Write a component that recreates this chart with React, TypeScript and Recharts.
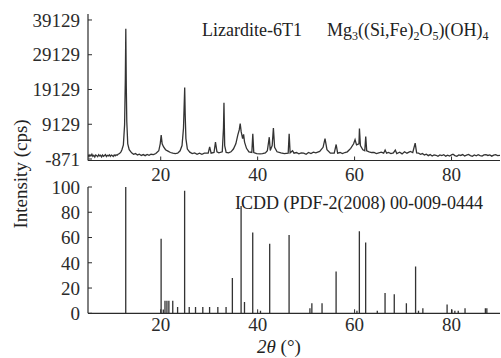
import React from 'react';
import { LineChart, Line, XAxis, YAxis, BarChart, Bar } from 'recharts';

const FONT = '"Liberation Serif", "Times New Roman", serif';
const INK = '#2b2b2b';

// Measured XRD pattern: 2θ (°) and intensity (cps)
const xrdAngle = [
  5.0, 5.2, 5.4, 5.6, 5.8, 6.0, 6.2, 6.4, 6.6, 6.8, 7.0, 7.2, 7.4, 7.6, 7.8, 8.0, 8.2, 8.4, 8.6, 8.8,
  9.0, 9.2, 9.4, 9.6, 9.8, 10.0, 10.2, 10.4, 10.6, 10.8, 11.0, 11.2, 11.5, 11.8, 12.0, 12.3, 12.55, 12.7,
  12.8, 12.9, 13.0, 13.2, 13.5, 14.0, 14.4, 14.8, 15.2, 15.6, 16.0, 16.4, 16.8, 17.2, 17.6, 18.0, 18.5, 19.0,
  19.6, 19.9, 20.1, 20.3, 20.6, 21.0, 21.5, 22.0, 22.5, 23.0, 23.5, 24.0, 24.4, 24.7, 24.85, 24.95, 25.05, 25.2,
  25.5, 26.0, 26.5, 27.0, 27.5, 28.0, 28.5, 29.0, 29.8, 30.1, 30.4, 31.0, 31.3, 31.6, 32.0, 32.7, 32.95, 33.05,
  33.2, 33.5, 34.0, 34.5, 35.0, 35.5, 35.9, 36.2, 36.4, 36.6, 36.9, 37.1, 37.3, 37.7, 38.2, 38.8, 39.0, 39.2,
  39.8, 40.5, 41.0, 41.6, 42.0, 42.4, 42.6, 43.0, 43.25, 43.5, 44.0, 44.8, 45.5, 46.3, 46.5, 46.7, 47.2, 47.5,
  48.0, 48.5, 49.0, 49.5, 50.0, 50.5, 51.0, 51.5, 52.0, 52.8, 53.5, 53.9, 54.3, 55.0, 55.8, 56.2, 56.5, 57.0,
  57.5, 58.0, 58.5, 59.2, 59.8, 60.1, 60.4, 60.9, 61.0, 61.2, 61.7, 62.1, 62.3, 62.5, 63.0, 63.5, 64.0, 64.5,
  65.0, 65.5, 66.0, 66.3, 66.6, 67.0, 67.5, 68.0, 68.4, 68.7, 69.3, 69.8, 70.3, 70.8, 71.5, 72.0, 72.5, 72.8,
  73.2, 73.6, 74.0, 74.4, 74.8, 75.2, 75.6, 76.0, 76.4, 76.8, 77.2, 77.6, 78.0, 78.4, 78.8, 79.2, 79.6, 80.0,
  80.3, 80.7, 81.1, 81.5, 81.9, 82.3, 82.7, 83.1, 83.5, 83.9, 84.3, 84.7, 85.1, 85.5, 85.9, 86.3, 86.7, 87.1,
  87.5, 87.9, 88.3, 88.7, 89.1, 89.5, 90.0,
];
const xrdIntensity = [
  400, -200, 300, 0, 500, -100, 200, -300, 300, 100, -200, 350, 0, 200, -250, 300, -100, 150, 400, -150,
  200, 0, 350, -100, 250, 100, -150, 300, 50, 350, 200, 500, 700, 1200, 1800, 3200, 9000, 22000,
  36600, 20000, 10000, 3500, 1800, 900, 500, 700, 300, 500, 150, 400, 100, 450, 200, 500, 400, 700,
  1500, 3500, 6000, 3500, 2600, 1800, 1400, 1000, 800, 700, 800, 1500, 3000, 8000, 15000, 19700, 12000, 5000,
  2000, 1100, 700, 900, 500, 800, 500, 800, 800, 2600, 800, 1000, 4000, 1200, 900, 1200, 8000, 15300,
  3000, 1000, 900, 1200, 2000, 3500, 6000, 7500, 9350, 7000, 5000, 6200, 4000, 2200, 1200, 1000, 6400, 1000,
  700, 600, 700, 900, 1500, 5400, 1600, 3000, 8060, 2500, 1200, 900, 700, 800, 6400, 900, 1500, 800,
  1000, 600, 900, 800, 500, 1000, 700, 1100, 900, 1300, 2500, 5000, 1800, 800, 800, 3300, 800, 1000,
  700, 1000, 1200, 2200, 3500, 4700, 3200, 3500, 7900, 3000, 1800, 1500, 5600, 1500, 1200, 1000, 1000, 700,
  900, 1100, 800, 1700, 800, 1000, 700, 900, 1700, 700, 1100, 600, 1200, 800, 1300, 1000, 3700, 900,
  800, 500, 700, 300, 500, 100, 400, 0, 300, 200, -100, 300, 100, 350, -50, 250, 0, 300,
  500, 100, -100, 300, 150, 400, 0, 250, 450, 100, -100, 300, 50, 350, 100, -50, 300, 400,
  150, 300, -50, 250, 400, 100, 200,
];

// ICDD reference card 00-009-0444: 2θ (°) and relative intensity
const refAngle = [
  12.8, 20.1, 20.55, 20.9, 21.3, 21.7, 22.5, 23.5, 24.95, 25.9, 27.2, 28.7, 30.1, 31.8, 33.5, 34.8, 36.6, 37.3,
  39.0, 40.6, 42.5, 46.5, 50.8, 51.2, 53.3, 56.2, 60.5, 61.0, 62.3, 64.7, 66.3, 68.2, 70.7, 72.6, 73.2, 74.1,
  79.1, 80.1, 80.7, 81.4, 82.8, 87.0, 87.3,
];
const refIntensity = [
  100, 59, 3, 10, 10, 10, 10, 5, 97, 5, 5, 5, 5, 5, 5, 28, 85, 9,
  64, 2, 55, 62, 4, 8, 8, 33, 2, 65, 56, 2, 16, 15, 8, 37, 2, 4,
  7, 3, 2, 2, 4, 4, 4,
];

const xTicks = [20, 40, 60, 80];
const topYTicks = [-871, 9129, 19129, 29129, 39129];
const bottomYTicks = [0, 20, 40, 60, 80, 100];

const xrdData = xrdAngle.map((a, i) => ({ angle: a, cps: xrdIntensity[i] }));
const refData = refAngle.map((a, i) => ({ angle: a, rel: refIntensity[i] }));

const TICK_FS = 19;

const makeXTick = (margin: number) => (props: any) => {
  const { x, y, payload } = props;
  const axisY = y - margin;
  return (
    <g>
      <line x1={x} x2={x} y1={axisY} y2={axisY - 4} stroke={INK} strokeWidth={1} />
      <text x={x} y={y} dy="0.71em" textAnchor="middle" fill={INK} fontFamily={FONT} fontSize={TICK_FS}>
        {payload.value}
      </text>
    </g>
  );
};

const makeYTick = (margin: number) => (props: any) => {
  const { x, y, payload } = props;
  const axisX = x + margin;
  return (
    <g>
      <line x1={axisX} x2={axisX + 4} y1={y} y2={y} stroke={INK} strokeWidth={1} />
      <text x={x} y={y} dy="0.355em" textAnchor="end" fill={INK} fontFamily={FONT} fontSize={TICK_FS}>
        {payload.value}
      </text>
    </g>
  );
};

const TopXTick = makeXTick(7);
const BottomXTick = makeXTick(4);
const YTick = makeYTick(8);

const W = 501;
const H = 358;

export default function App() {
  const abs: React.CSSProperties = { position: 'absolute', left: 0, top: 0 };
  return (
    <div style={{ position: 'absolute', left: 0, top: 0, width: W, height: H, background: '#fff' }}>
      <div style={abs}>
        <LineChart width={W} height={H} data={xrdData} margin={{ top: 14, right: 1, bottom: 172.5, left: 0 }}>
          <XAxis
            dataKey="angle"
            type="number"
            domain={[5, 90]}
            ticks={xTicks}
            height={25}
            tickSize={0}
            tickMargin={7}
            tick={TopXTick}
            axisLine={{ stroke: INK, strokeWidth: 1.2 }}
            allowDataOverflow
          />
          <XAxis xAxisId="top" orientation="top" type="number" domain={[5, 90]} height={0} tick={false} tickLine={false} axisLine={{ stroke: INK, strokeWidth: 1.2 }} />
          <YAxis
            type="number"
            domain={[-1300, 40850]}
            ticks={topYTicks}
            width={88}
            tickSize={0}
            tickMargin={8}
            tick={YTick}
            axisLine={{ stroke: INK, strokeWidth: 1.2 }}
            allowDataOverflow
          />
          <YAxis yAxisId="right" orientation="right" type="number" domain={[0, 1]} width={0} tick={false} tickLine={false} axisLine={{ stroke: INK, strokeWidth: 1.2 }} />
          <Line dataKey="cps" type="linear" stroke="#333" strokeWidth={1.3} dot={false} isAnimationActive={false} />
        </LineChart>
      </div>
      <div style={abs}>
        <BarChart width={W} height={H} data={refData} margin={{ top: 187, right: 1, bottom: 19.7, left: 0 }}>
          <XAxis
            dataKey="angle"
            type="number"
            domain={[5, 90]}
            ticks={xTicks}
            height={25}
            tickSize={0}
            tickMargin={4}
            tick={BottomXTick}
            axisLine={{ stroke: INK, strokeWidth: 1.2 }}
            allowDataOverflow
          />
          <XAxis xAxisId="top" orientation="top" type="number" domain={[5, 90]} height={0} tick={false} tickLine={false} axisLine={{ stroke: INK, strokeWidth: 1.2 }} />
          <YAxis
            type="number"
            domain={[0, 100]}
            ticks={bottomYTicks}
            width={88}
            tickSize={0}
            tickMargin={8}
            tick={YTick}
            axisLine={{ stroke: INK, strokeWidth: 1.2 }}
          />
          <YAxis yAxisId="right" orientation="right" type="number" domain={[0, 1]} width={0} tick={false} tickLine={false} axisLine={{ stroke: INK, strokeWidth: 1.2 }} />
          <Bar dataKey="rel" fill="#333" barSize={2} isAnimationActive={false} />
        </BarChart>
      </div>
      <svg width={W} height={H} style={{ ...abs, pointerEvents: 'none' }}>
        <g fontFamily={FONT} fill="#222" fontSize={18}>
          <text x={202} y={35.5}>Lizardite-6T1</text>
          <text x={327} y={35.5}>
            Mg<tspan fontSize={12} dy={4}>3</tspan>
            <tspan dy={-4}>((Si,Fe)</tspan>
            <tspan fontSize={12} dy={4}>2</tspan>
            <tspan dy={-4}>O</tspan>
            <tspan fontSize={12} dy={4}>5</tspan>
            <tspan dy={-4}>)(OH)</tspan>
            <tspan fontSize={12} dy={4}>4</tspan>
          </text>
          <text x={235} y={209}>ICDD (PDF-2(2008) 00-009-0444</text>
          <text x={257} y={353} fontSize={19}>
            <tspan fontStyle="italic">2θ</tspan> (°)
          </text>
          <text x={27} y={174} fontSize={19} textAnchor="middle" transform="rotate(-90 27 174)">
            Intensity (cps)
          </text>
        </g>
      </svg>
    </div>
  );
}
